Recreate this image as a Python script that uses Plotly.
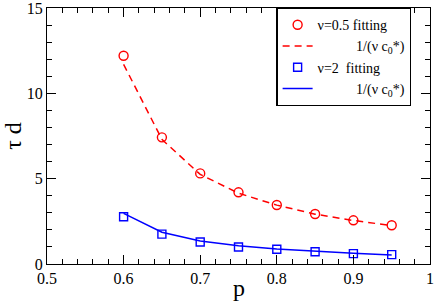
import plotly.graph_objects as go

p = [0.6, 0.65, 0.7, 0.75, 0.8, 0.85, 0.9, 0.95]
fit_nu05 = [12.2, 7.42, 5.31, 4.2, 3.46, 2.93, 2.56, 2.27]
theory_nu05 = [11.7, 7.3, 5.25, 4.15, 3.45, 2.92, 2.55, 2.25]
fit_nu2 = [2.77, 1.75, 1.29, 1.0, 0.86, 0.72, 0.61, 0.55]
theory_nu2 = [2.97, 1.86, 1.35, 1.07, 0.88, 0.74, 0.63, 0.53]

font = "Liberation Serif, Times New Roman, serif"
nb = "\u00a0"

fig = go.Figure()
fig.add_trace(go.Scatter(x=p, y=fit_nu05, mode="markers", name="ν=0.5 fitting",
                         marker=dict(symbol="circle-open", size=9, color="#ff0000", line=dict(width=1.4))))
fig.add_trace(go.Scatter(x=p, y=theory_nu05, mode="lines", name=nb * 11 + "1/(ν c<sub>0</sub>*)",
                         line=dict(color="#ff0000", width=1.5, dash="7px,5px")))
fig.add_trace(go.Scatter(x=p, y=fit_nu2, mode="markers", name="ν=2" + nb * 2 + "fitting",
                         marker=dict(symbol="square-open", size=8, color="#0000ff", line=dict(width=1.4))))
fig.add_trace(go.Scatter(x=p, y=theory_nu2, mode="lines", name=nb * 11 + "1/(ν c<sub>0</sub>*)",
                         line=dict(color="#0000ff", width=1.5)))

axis_common = dict(showline=True, linecolor="black", linewidth=1.3, mirror="allticks",
                   ticks="inside", ticklen=9, tickwidth=1.2, tickcolor="black",
                   showgrid=False, zeroline=False, automargin=False,
                   ticklabeloverflow="allow",
                   tickfont=dict(family=font, size=16, color="black"))

fig.update_xaxes(range=[0.5, 1.0],
                 tickvals=[0.5, 0.6, 0.7, 0.8, 0.9, 1.0],
                 ticktext=["0.5", "0.6", "0.7", "0.8", "0.9", "1"],
                 minor=dict(dtick=0.02, tick0=0.5, ticklen=5, tickwidth=1, tickcolor="black", ticks="inside"),
                 **axis_common)
fig.update_yaxes(range=[0, 15], dtick=5,
                 minor=dict(dtick=1, ticklen=5, tickwidth=1, tickcolor="black", ticks="inside"),
                 title=dict(text="τ d", font=dict(family=font, size=24, color="black"), standoff=4),
                 **axis_common)

fig.add_annotation(text="p", x=0.5, y=-0.092, xref="paper", yref="paper",
                   xanchor="center", yanchor="middle", showarrow=False,
                   font=dict(family=font, size=24, color="black"))

fig.update_layout(
    width=436, height=306,
    margin=dict(l=47, r=6, t=8, b=42),
    paper_bgcolor="white", plot_bgcolor="white",
    showlegend=True,
    legend=dict(x=0.599, y=1.0, xanchor="left", yanchor="top",
                bgcolor="white", bordercolor="black", borderwidth=1.2,
                font=dict(family=font, size=14, color="black"),
                tracegroupgap=0, itemwidth=30),
)

fig.write_html("out.html", config={"displayModeBar": False},
               post_script="document.body.style.margin='0';document.body.style.overflow='hidden';")
